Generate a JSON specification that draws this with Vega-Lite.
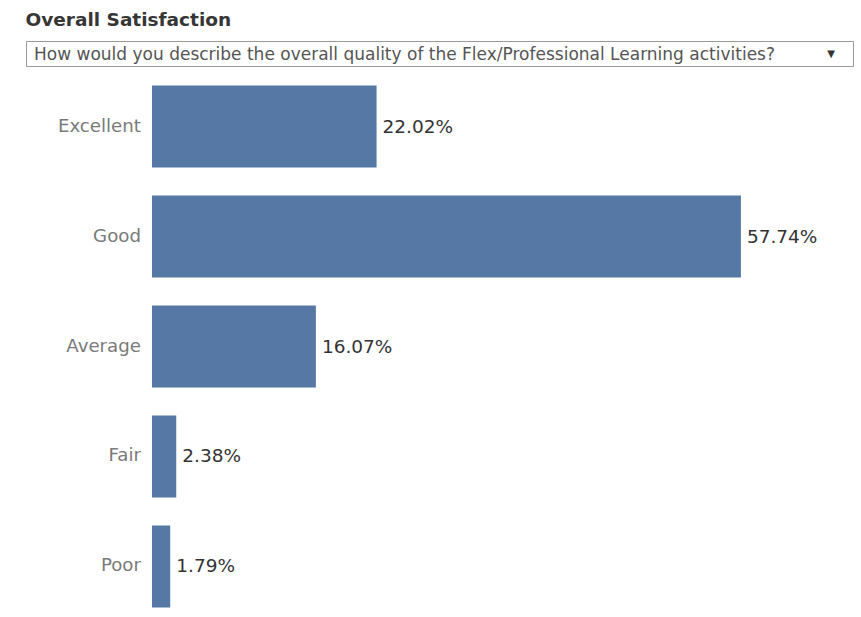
{
  "$schema": "https://vega.github.io/schema/vega-lite/v6.json",
  "padding": {"left": 25, "top": 11, "right": 9, "bottom": 0},
  "background": "white",
  "title": {"text": "Overall Satisfaction", "anchor": "start", "fontSize": 18.5, "fontWeight": "bold", "color": "#363636", "font": "DejaVu Sans", "offset": 11},
  "config": {"font": "DejaVu Sans", "concat": {"spacing": 13}},
  "vconcat": [
    {
      "width": 827,
      "height": 25,
      "view": {"stroke": "#9a9a9a", "strokeWidth": 1},
      "data": {"values": [{"question": "How would you describe the overall quality of the Flex/Professional Learning activities?", "arrow": "▼"}]},
      "layer": [
        {
          "mark": {"type": "text", "align": "left", "baseline": "middle", "dx": 8, "dy": 1, "fontSize": 17, "color": "#555555"},
          "encoding": {
            "text": {"field": "question"},
            "x": {"datum": 0, "type": "quantitative", "scale": {"domain": [0, 1]}, "axis": null}
          }
        },
        {
          "mark": {"type": "text", "align": "center", "baseline": "middle", "dx": -22, "fontSize": 10, "color": "#333333"},
          "encoding": {
            "text": {"field": "arrow"},
            "x": {"datum": 1, "type": "quantitative", "scale": {"domain": [0, 1]}, "axis": null}
          }
        }
      ]
    },
    {
      "width": 827,
      "height": 533,
      "view": {"stroke": null},
      "data": {"values": [
        {"rating": "Excellent", "pct": 0.2202},
        {"rating": "Good", "pct": 0.5774},
        {"rating": "Average", "pct": 0.1607},
        {"rating": "Fair", "pct": 0.0238},
        {"rating": "Poor", "pct": 0.0179}
      ]},
      "encoding": {
        "y": {"field": "rating", "type": "nominal", "sort": ["Excellent", "Good", "Average", "Fair", "Poor"], "scale": {"paddingInner": 0.2545, "paddingOuter": 0.05}, "axis": null}
      },
      "layer": [
        {
          "mark": {"type": "bar", "color": "#5578a5"},
          "encoding": {
            "x": {"field": "pct", "type": "quantitative", "scale": {"domain": [-0.1235, 0.6873], "nice": false, "zero": false}, "axis": null},
            "x2": {"datum": 0}
          }
        },
        {
          "mark": {"type": "text", "align": "left", "baseline": "middle", "dx": 6, "fontSize": 18.5, "color": "#333333"},
          "encoding": {
            "x": {"field": "pct", "type": "quantitative"},
            "text": {"field": "pct", "type": "quantitative", "format": ".2%"}
          }
        },
        {
          "mark": {"type": "text", "align": "right", "baseline": "middle", "dx": -11, "fontSize": 18.2, "color": "#7a7a7a"},
          "encoding": {
            "x": {"datum": 0, "type": "quantitative"},
            "text": {"field": "rating"}
          }
        }
      ]
    }
  ]
}
